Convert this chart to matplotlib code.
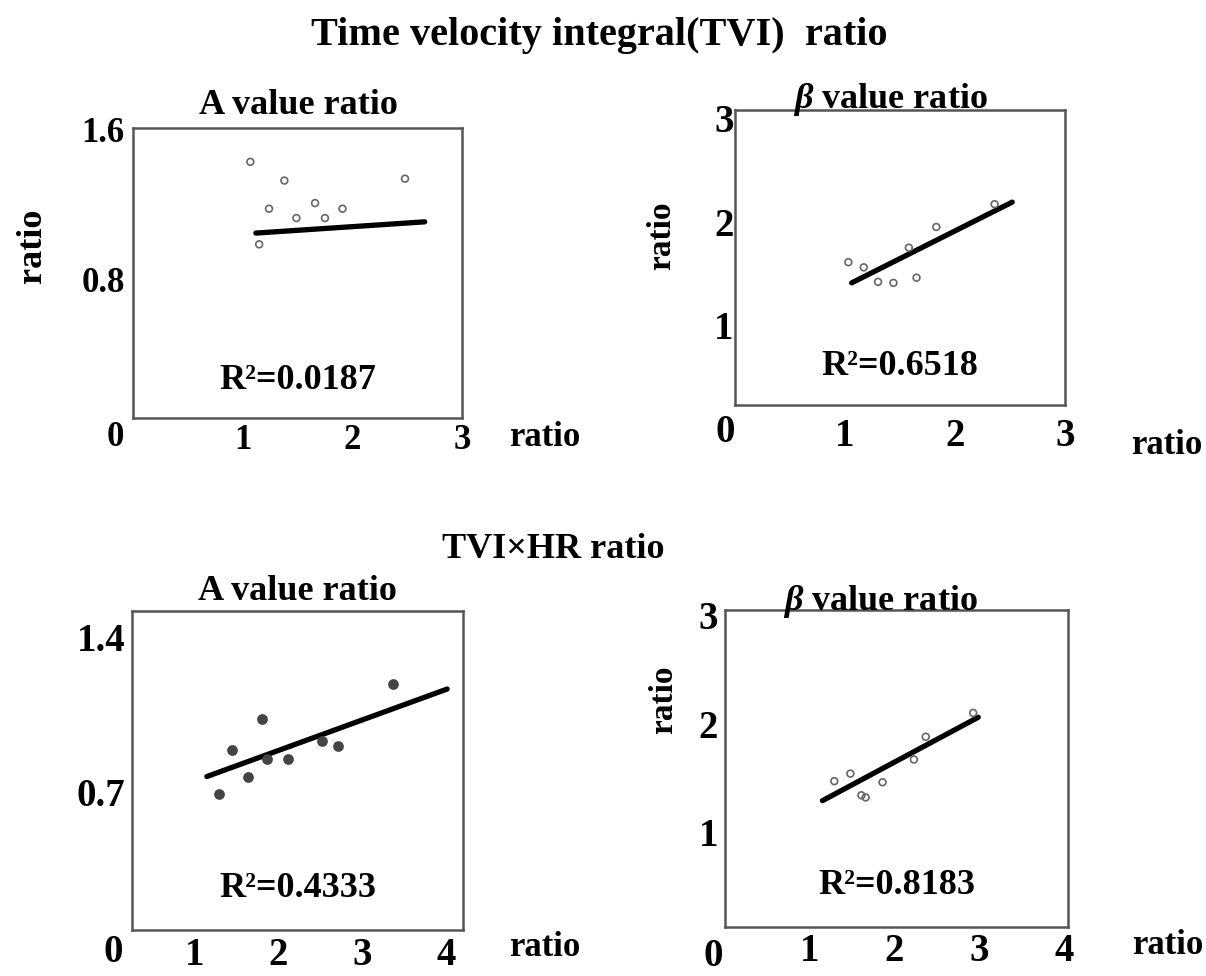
import numpy as np
import matplotlib.pyplot as plt

plt.rcParams['font.family'] = ['Liberation Serif', 'DejaVu Serif']
plt.rcParams['font.weight'] = 'bold'
plt.rcParams['mathtext.fontset'] = 'custom'
plt.rcParams['mathtext.rm'] = 'Liberation Serif:bold'
plt.rcParams['mathtext.it'] = 'Liberation Serif:italic:bold'
plt.rcParams['mathtext.bf'] = 'Liberation Serif:bold'

# TVI ratio - A value ratio
tvi_a_x = [1.07, 1.38, 2.48, 1.24, 1.66, 1.91, 1.49, 1.75, 1.15]
tvi_a_y = [1.43, 1.33, 1.34, 1.18, 1.21, 1.18, 1.13, 1.13, 0.99]
tvi_a_fit_x = [1.12, 2.66]
tvi_a_fit_y = [1.05, 1.11]

# TVI ratio - beta value ratio
tvi_b_x = [1.03, 1.17, 1.30, 1.44, 1.58, 1.65, 1.83, 2.36]
tvi_b_y = [1.61, 1.56, 1.42, 1.41, 1.75, 1.46, 1.95, 2.17]
tvi_b_fit_x = [1.06, 2.52]
tvi_b_fit_y = [1.41, 2.19]

# TVI x HR ratio - A value ratio
hr_a_x = [1.29, 1.45, 1.64, 1.81, 1.87, 2.12, 2.52, 2.71, 3.37]
hr_a_y = [0.69, 0.89, 0.77, 1.03, 0.85, 0.85, 0.93, 0.91, 1.19]
hr_a_fit_x = [1.15, 4.01]
hr_a_fit_y = [0.77, 1.165]

# TVI x HR ratio - beta value ratio
hr_b_x = [1.29, 1.48, 1.61, 1.66, 1.86, 2.23, 2.37, 2.93]
hr_b_y = [1.47, 1.54, 1.34, 1.32, 1.46, 1.67, 1.88, 2.10]
hr_b_fit_x = [1.15, 2.99]
hr_b_fit_y = [1.29, 2.06]

r2_labels = ['0.0187', '0.6518', '0.4333', '0.8183']

fig = plt.figure(figsize=(12.06, 9.76), dpi=100)

panels = [
    # rect, xlim, ylim, xticks, yticks, data, filled, ticksize, xpad, ypad
    ([0.1103, 0.5717, 0.2728, 0.2971], (0, 3.0), (0.064, 1.61), [1, 2, 3], [0.8, 1.6],
     (tvi_a_x, tvi_a_y, tvi_a_fit_x, tvi_a_fit_y), False, 25, 4, 6),
    ([0.6095, 0.5850, 0.2736, 0.3023], (0, 3.0), (0.23, 3.08), [1, 2, 3], [1, 2, 3],
     (tvi_b_x, tvi_b_y, tvi_b_fit_x, tvi_b_fit_y), False, 28, 9, 1),
    ([0.1095, 0.0471, 0.2745, 0.3268], (0.26, 4.2), (0.077, 1.517), [1, 2, 3, 4], [0.7, 1.4],
     (hr_a_x, hr_a_y, hr_a_fit_x, hr_a_fit_y), True, 28, 5, 5),
    ([0.6012, 0.0502, 0.2844, 0.3248], (0, 4.05), (0.124, 3.05), [1, 2, 3, 4], [1, 2, 3],
     (hr_b_x, hr_b_y, hr_b_fit_x, hr_b_fit_y), False, 28, 4, 5),
]

for (rect, xl, yl, xt, yt, (px, py, fx, fy), filled, tsz, xpad, ypad), r2 in zip(panels, r2_labels):
    ax = fig.add_axes(rect)
    if filled:
        ax.scatter(px, py, s=45, color='#444444', zorder=3)
    else:
        ax.scatter(px, py, s=24, facecolors='none', edgecolors='#666666', linewidths=1.2, zorder=3)
    ax.plot(fx, fy, color='black', lw=3.8, solid_capstyle='round', zorder=2)
    ax.set_xlim(*xl)
    ax.set_ylim(*yl)
    ax.set_xticks(xt)
    ax.set_yticks(yt)
    ax.set_yticklabels(['%g' % v for v in yt])
    ax.tick_params(length=0, labelsize=tsz)
    ax.tick_params(axis='x', pad=xpad)
    ax.tick_params(axis='y', pad=ypad)
    for sp in ax.spines.values():
        sp.set_color('#555555')
        sp.set_linewidth(1.8)
    ax.text(0.5, 0.13, 'R²=' + r2, transform=ax.transAxes, ha='center', va='center',
            fontsize=26)

# corner "0" labels
fig.text(115 / 1206, 1 - 437 / 976, '0', ha='center', va='center', fontsize=25)
fig.text(725 / 1206, 1 - 432 / 976, '0', ha='center', va='center', fontsize=28)
fig.text(113 / 1206, 1 - 953 / 976, '0', ha='center', va='center', fontsize=28)
fig.text(713 / 1206, 1 - 957 / 976, '0', ha='center', va='center', fontsize=28)

# titles
fig.text(0.497, 1 - 36 / 976, 'Time velocity integral(TVI)  ratio', ha='center', va='center', fontsize=29)
fig.text(553 / 1206, 1 - 550 / 976, 'TVI×HR ratio', ha='center', va='center', fontsize=26)
fig.text(298 / 1206, 1 - 106 / 976, 'A value ratio', ha='center', va='center', fontsize=26)
fig.text(890 / 1206, 1 - 100 / 976, r'$\beta$ value ratio', ha='center', va='center', fontsize=26)
fig.text(297 / 1206, 1 - 592 / 976, 'A value ratio', ha='center', va='center', fontsize=26)
fig.text(880 / 1206, 1 - 602 / 976, r'$\beta$ value ratio', ha='center', va='center', fontsize=26)

# axis labels
fig.text(33 / 1206, 1 - 246 / 976, 'ratio', rotation=90, ha='center', va='center', fontsize=26)
fig.text(662 / 1206, 1 - 236 / 976, 'ratio', rotation=90, ha='center', va='center', fontsize=24)
fig.text(664 / 1206, 1 - 700 / 976, 'ratio', rotation=90, ha='center', va='center', fontsize=24)
fig.text(545 / 1206, 1 - 438 / 976, 'ratio', ha='center', va='center', fontsize=25)
fig.text(1167 / 1206, 1 - 446 / 976, 'ratio', ha='center', va='center', fontsize=25)
fig.text(545 / 1206, 1 - 947 / 976, 'ratio', ha='center', va='center', fontsize=25)
fig.text(1168 / 1206, 1 - 945 / 976, 'ratio', ha='center', va='center', fontsize=25)

fig.savefig('out.png', dpi=100)
